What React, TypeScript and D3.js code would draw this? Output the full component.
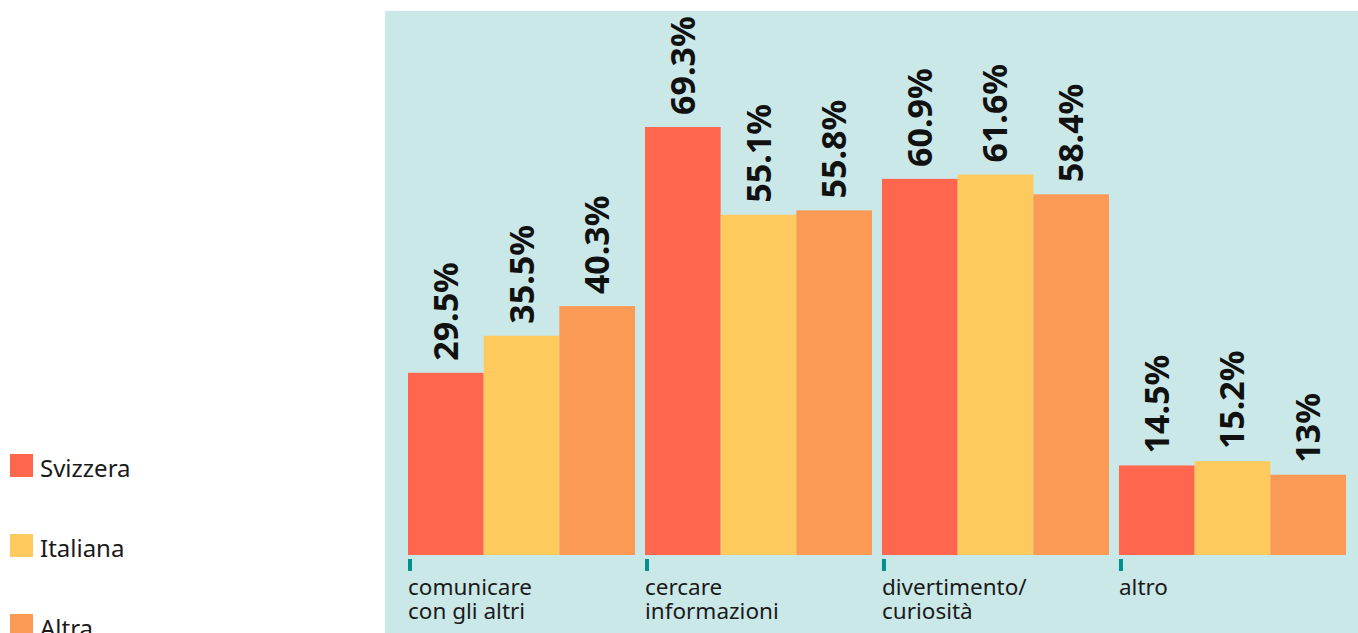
import React from "react";
import * as d3 from "d3";

const categories = ["comunicare\ncon gli altri", "cercare\ninformazioni", "divertimento/\ncuriosità", "altro"];
const seriesNames = ["Svizzera", "Italiana", "Altra"];
const svizzera = [29.5, 69.3, 60.9, 14.5];
const italiana = [35.5, 55.1, 61.6, 15.2];
const altra = [40.3, 55.8, 58.4, 13];
const valueLabels = [
  ["29.5%", "69.3%", "60.9%", "14.5%"],
  ["35.5%", "55.1%", "61.6%", "15.2%"],
  ["40.3%", "55.8%", "58.4%", "13%"],
];

const colors = ["#fe674e", "#fec95d", "#fb9a55"];
const W = 1358;
const H = 633;
const baseY = 555;

export default function App() {
  const series = [svizzera, italiana, altra];
  const x0 = d3.scaleBand<number>().domain(d3.range(categories.length)).range([408, 1346]).paddingInner(0.042).paddingOuter(0);
  const x1 = d3.scaleBand<number>().domain(d3.range(seriesNames.length)).range([0, x0.bandwidth()]);
  const y = d3.scaleLinear().domain([0, 69.3]).range([baseY, 127]);
  const font = "'Noto Sans', sans-serif";

  return (
    <svg width={W} height={H} style={{ position: "absolute", left: 0, top: 0 }}>
      <rect x={385} y={11} width={W - 385} height={H - 11} fill="#cbe8e8" />
      {categories.map((c, i) => (
        <g key={c} transform={`translate(${x0(i)},0)`}>
          {series.map((s, j) => (
            <rect key={j} x={x1(j)} y={y(s[i])} width={x1.bandwidth()} height={baseY - y(s[i])} fill={colors[j]} />
          ))}
          {series.map((s, j) => {
            const cx = (x1(j) as number) + x1.bandwidth() / 2 + 12;
            const ty = y(s[i]) - 12;
            return (
              <text key={"l" + j} transform={`translate(${cx},${ty}) rotate(-90)`} fontFamily={font} fontWeight="bold" fontSize={34} fill="#111">
                {valueLabels[j][i]}
              </text>
            );
          })}
          <rect x={0} y={559} width={4} height={12} fill="#00918e" />
          {c.split("\n").map((line, k) => (
            <text key={k} x={0} y={595 + k * 24} fontFamily={font} fontSize={22.5} fill="#1a1a1a">
              {line}
            </text>
          ))}
        </g>
      ))}
      {seriesNames.map((n, j) => (
        <g key={n} transform={`translate(10,${454 + j * 80})`}>
          <rect width={23} height={23} fill={colors[j]} />
          <text x={30} y={23} fontFamily={font} fontSize={24} fill="#1a1a1a">
            {n}
          </text>
        </g>
      ))}
    </svg>
  );
}
